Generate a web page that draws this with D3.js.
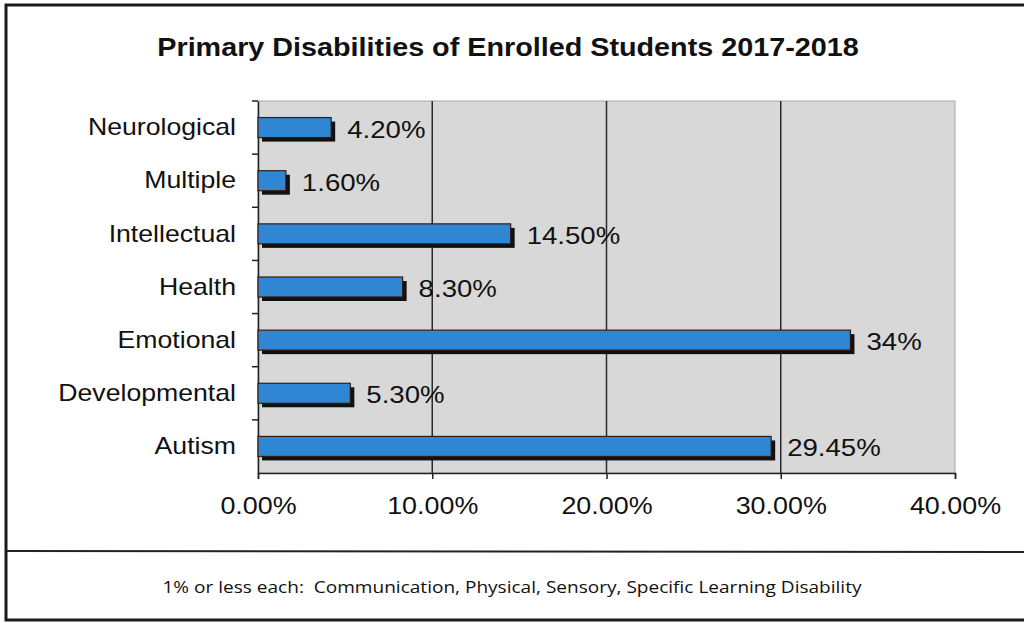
<!DOCTYPE html>
<html>
<head>
<meta charset="utf-8">
<script src="https://cdn.jsdelivr.net/npm/d3@7"></script>
<style>
  body { margin: 0; background: #fff; }
  svg { display: block; }
</style>
</head>
<body>
<div id="chart"></div>
<script>
const categories = ['Neurological', 'Multiple', 'Intellectual', 'Health', 'Emotional', 'Developmental', 'Autism'];
const values = [4.2, 1.6, 14.5, 8.3, 34, 5.3, 29.45];
const valueLabels = ['4.20%', '1.60%', '14.50%', '8.30%', '34%', '5.30%', '29.45%'];
const xTicks = [0, 10, 20, 30, 40];
const title = 'Primary Disabilities of Enrolled Students 2017-2018';
const footnote = '1% or less each:  Communication, Physical, Sensory, Specific Learning Disability';

const W = 1024, H = 623;
const plot = { left: 258, right: 955, top: 101, bottom: 473 };
const font = 'Liberation Sans, Arial, sans-serif';

// the scanned original is a bit wider than normal Arial, so widen glyphs
function stretch(sel, k) {
  sel.each(function () {
    const w = this.getComputedTextLength();
    d3.select(this)
      .attr('textLength', w * k)
      .attr('lengthAdjust', 'spacingAndGlyphs');
  });
}

const svg = d3.select('#chart').append('svg')
  .attr('width', W)
  .attr('height', H);

// outer frame
svg.append('rect')
  .attr('x', 6).attr('y', 5)
  .attr('width', W + 10).attr('height', 615)
  .attr('fill', 'none')
  .attr('stroke', '#1a1a1a')
  .attr('stroke-width', 3);

svg.append('line')
  .attr('x1', 6).attr('x2', W)
  .attr('y1', 551).attr('y2', 552)
  .attr('stroke', '#222')
  .attr('stroke-width', 2);

svg.append('text')
  .attr('x', 508).attr('y', 56)
  .attr('text-anchor', 'middle')
  .attr('font-family', font)
  .attr('font-weight', 'bold')
  .attr('font-size', 25)
  .attr('fill', '#111')
  .text(title)
  .call(stretch, 1.15);

const x = d3.scaleLinear()
  .domain([0, 40])
  .range([plot.left, plot.right]);

const y = d3.scaleBand()
  .domain(categories)
  .range([plot.top, plot.bottom]);

// plot background
svg.append('rect')
  .attr('x', plot.left).attr('y', plot.top)
  .attr('width', plot.right - plot.left)
  .attr('height', plot.bottom - plot.top)
  .attr('fill', '#d8d8d8')
  .attr('stroke', '#a8a8a8')
  .attr('stroke-width', 1);

// vertical gridlines
svg.append('g')
  .selectAll('line')
  .data(xTicks.slice(1, -1))
  .enter().append('line')
  .attr('x1', d => x(d)).attr('x2', d => x(d))
  .attr('y1', plot.top).attr('y2', plot.bottom)
  .attr('stroke', '#2a2a2a')
  .attr('stroke-width', 1.5);

// x axis
const xAxis = svg.append('g')
  .attr('transform', `translate(0,${plot.bottom})`)
  .call(d3.axisBottom(x).tickValues(xTicks).tickSize(6).tickPadding(18)
    .tickFormat(d => d.toFixed(2) + '%'));
xAxis.select('.domain').attr('stroke', '#222').attr('stroke-width', 1.5);
xAxis.selectAll('line').attr('stroke', '#222').attr('stroke-width', 1.5);
xAxis.selectAll('text')
  .attr('font-family', font)
  .attr('font-size', 24)
  .attr('fill', '#111')
  .call(stretch, 1.12);

// y axis
const yAxis = svg.append('g')
  .attr('transform', `translate(${plot.left},0)`)
  .call(d3.axisLeft(y).tickSize(0).tickPadding(22));
yAxis.select('.domain').attr('stroke', '#222').attr('stroke-width', 1.5);
yAxis.selectAll('text')
  .attr('font-family', font)
  .attr('font-size', 24)
  .attr('fill', '#111')
  .call(stretch, 1.11);

// y tick marks at band edges
svg.append('g')
  .selectAll('line')
  .data(categories)
  .enter().append('line')
  .attr('x1', plot.left - 6).attr('x2', plot.left)
  .attr('y1', d => y(d)).attr('y2', d => y(d))
  .attr('stroke', '#222')
  .attr('stroke-width', 1.5);

const barH = 20;
const bars = svg.append('g');

// shadows
bars.selectAll('.shadow')
  .data(values)
  .enter().append('rect')
  .attr('class', 'shadow')
  .attr('x', x(0) + 4)
  .attr('y', (d, i) => y(categories[i]) + y.bandwidth() / 2 - barH / 2 + 4)
  .attr('width', d => x(d) - x(0))
  .attr('height', barH)
  .attr('fill', '#111');

bars.selectAll('.bar')
  .data(values)
  .enter().append('rect')
  .attr('class', 'bar')
  .attr('x', x(0))
  .attr('y', (d, i) => y(categories[i]) + y.bandwidth() / 2 - barH / 2)
  .attr('width', d => x(d) - x(0))
  .attr('height', barH)
  .attr('fill', '#2f86d2')
  .attr('stroke', '#3a1a10')
  .attr('stroke-width', 1.2);

bars.selectAll('.label')
  .data(values)
  .enter().append('text')
  .attr('class', 'label')
  .attr('x', d => x(d) + 16)
  .attr('y', (d, i) => y(categories[i]) + y.bandwidth() / 2 + 10)
  .attr('font-family', font)
  .attr('font-size', 24)
  .attr('fill', '#111')
  .text((d, i) => valueLabels[i])
  .call(stretch, 1.15);

svg.append('text')
  .attr('x', 512).attr('y', 593)
  .attr('text-anchor', 'middle')
  .attr('font-family', 'Liberation Sans Narrow, Open Sans, sans-serif')
  .attr('font-size', 17)
  .attr('fill', '#111')
  .style('white-space', 'pre')
  .text(footnote)
  .call(stretch, 1.12);
</script>
</body>
</html>
